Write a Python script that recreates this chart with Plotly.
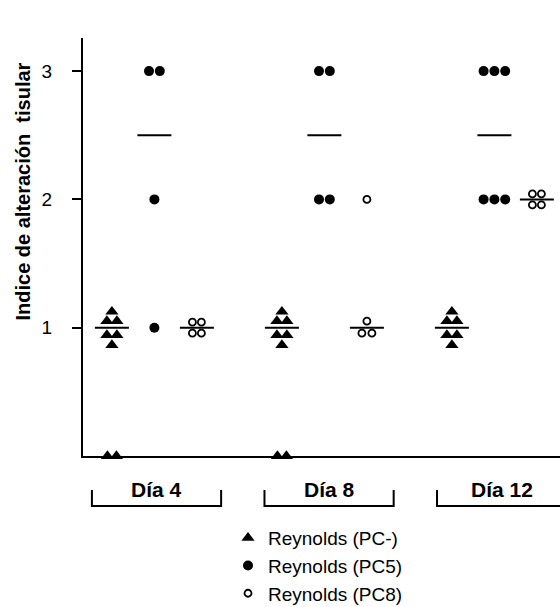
import numpy as np
import plotly.graph_objects as go

# ---------------- data ----------------
dias = ["Día 4", "Día 8", "Día 12"]
series = ["Reynolds (PC-)", "Reynolds (PC5)", "Reynolds (PC8)"]
pc_minus = [[1, 1, 1, 1, 1, 1, 0, 0], [1, 1, 1, 1, 1, 1, 0, 0], [1, 1, 1, 1, 1, 1]]
pc5 = [[3, 3, 2, 1], [3, 3, 2, 2], [3, 3, 3, 2, 2, 2]]
pc8 = [[1, 1, 1, 1], [2, 1, 1, 1], [2, 2, 2, 2]]
y_ticks = [1, 2, 3]
y_title = "Indice de alteración  tisular"

# ---------------- layout constants ----------------
W, H = 560, 607
L, T, B = 83, 38, 151
PX_X = 42.5            # px per x unit
X0 = 0.32
PX_Y = 128.3           # px per y unit
plot_w = W - L
plot_h = H - T - B
x_range = [X0, X0 + plot_w / PX_X]
y_range = [0, plot_h / PX_Y]

FONT = "Arial, 'Liberation Sans', sans-serif"


def py2paper(py):
    return (T + plot_h - py) / plot_h


def px2paper(px):
    return (px - L) / plot_w


# spread patterns (pixel offsets) for tied values
def pattern(kind, n):
    if kind == "tri":
        if n == 6:
            return [(0, -16), (-5, -6.6), (5, -6.6), (-5, 7.3), (5, 7.3), (0, 17.4)]
        if n == 2:
            return [(-4.5, 0), (4.5, 0)]
    if kind == "open":
        if n == 4:
            return [(-4.5, -5.5), (4.5, -5.5), (-4.5, 5.5), (4.5, 5.5)]
        if n == 3:
            return [(0, -6.5), (-5, 5.5), (5, 5.5)]
    if kind == "dot":
        step = 10.8
        return [((i - (n - 1) / 2) * step, 0) for i in range(n)]
    return [((i - (n - 1) / 2) * 9, 0) for i in range(n)]


def spread(values, xc, kind):
    xs, ys = [], []
    for v in sorted(set(values), reverse=True):
        n = values.count(v)
        for dx, dy in pattern(kind, n):
            xs.append(xc + dx / PX_X)
            ys.append(v - dy / PX_Y)
    return xs, ys


fig = go.Figure()

specs = [
    (series[0], pc_minus, 0, "tri", dict(symbol="triangle-up", size=11.5, color="black")),
    (series[1], pc5, 1, "dot", dict(symbol="circle", size=10, color="black")),
    (series[2], pc8, 2, "open", dict(symbol="circle-open", size=7, color="black",
                                     line=dict(width=1.8, color="black"))),
]

for name, data, off, kind, mk in specs:
    for g, vals in enumerate(data):
        xc = 1 + 4 * g + off
        xs, ys = spread(vals, xc, kind)
        fig.add_trace(go.Scatter(
            x=xs, y=ys, mode="markers", marker=mk, name=name,
            legendgroup=name, showlegend=(g == 0), cliponaxis=False,
            hoverinfo="skip"))
        med = float(np.median(vals))
        fig.add_trace(go.Scatter(
            x=[xc - 0.4, xc + 0.4], y=[med, med], mode="lines",
            line=dict(color="black", width=2), showlegend=False,
            hoverinfo="skip", cliponaxis=False))

# brackets and day labels
br_top = py2paper(490)
br_bot = py2paper(506)
for g, d in enumerate(dias):
    c = 2 + 4.06 * g + 0.05
    x1, x2 = c - 1.52, c + 1.52
    fig.add_shape(type="path", xref="x", yref="paper",
                  path=f"M {x1},{br_top} L {x1},{br_bot} L {x2},{br_bot} L {x2},{br_top}",
                  line=dict(color="black", width=2))
    fig.add_annotation(x=c, y=py2paper(489), xref="x", yref="paper",
                       text=f"<b>{d}</b>", showarrow=False, yanchor="middle",
                       font=dict(family=FONT, size=21, color="black"))

fig.add_annotation(x=px2paper(22), y=py2paper(191.5),
                   xref="paper", yref="paper", text=f"<b>{y_title}</b>",
                   textangle=-90, showarrow=False,
                   xanchor="center", yanchor="middle",
                   font=dict(family=FONT, size=20, color="black"))

fig.update_layout(
    width=W, height=H,
    margin=dict(l=L, r=0, t=T, b=B, autoexpand=False),
    paper_bgcolor="white", plot_bgcolor="white",
    font=dict(family=FONT, color="black"),
    showlegend=True,
    legend=dict(x=px2paper(228), xanchor="left",
                y=py2paper(519), yanchor="top",
                font=dict(family=FONT, size=19, color="black"),
                bgcolor="rgba(0,0,0,0)", tracegroupgap=0),
    xaxis=dict(range=x_range, showgrid=False, zeroline=False, showline=True,
               linecolor="black", linewidth=2, showticklabels=False, ticks="",
               layer="below traces"),
    yaxis=dict(range=y_range, showgrid=False, zeroline=False, showline=True,
               linecolor="black", linewidth=2, ticks="outside", ticklen=9,
               tickwidth=2, tickcolor="black", tickvals=y_ticks,
               ticklabelstandoff=16,
               tickfont=dict(family=FONT, size=19, color="black"),
               layer="below traces"),
)

fig.write_html("out.html")
